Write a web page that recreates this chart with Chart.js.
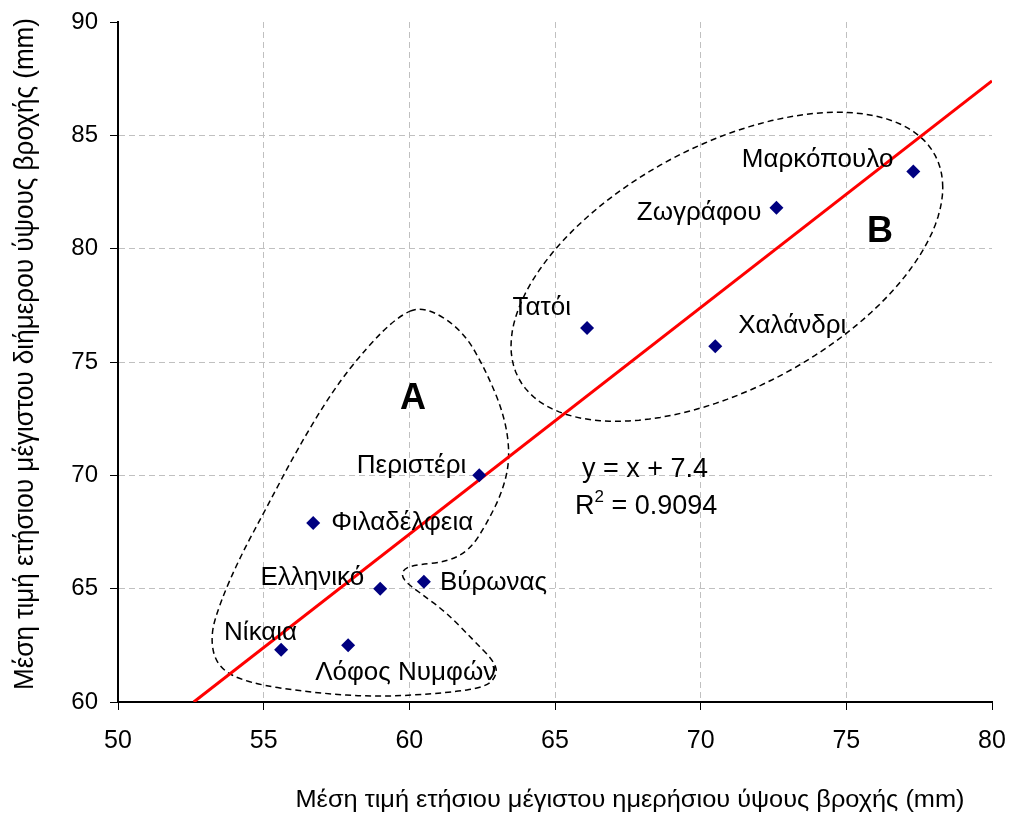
<!DOCTYPE html>
<html lang="el">
<head>
    <meta charset="UTF-8">
    <title>Μέγιστο ύψος βροχής</title>
    <script src="https://cdn.jsdelivr.net/npm/chart.js"></script>
    <style>
        body {
            margin: 0;
            padding: 0;
            background: #fff;
        }
        #chart {
            display: block;
        }
    </style>
</head>
<body>
    <canvas id="chart" width="1009" height="818"></canvas>

    <script>
        // Stations and values
        const stations = ["Νίκαια", "Λόφος Νυμφών", "Ελληνικό", "Φιλαδέλφεια", "Περιστέρι",
                          "Βύρωνας", "Τατόι", "Χαλάνδρι", "Ζωγράφου", "Μαρκόπουλο"];
        const dailyMax  = [55.6, 57.9, 59.0, 56.7, 62.4, 60.5, 66.1, 70.5, 72.6, 77.3];
        const twoDayMax = [62.3, 62.5, 65.0, 67.9, 70.0, 65.3, 76.5, 75.7, 81.8, 83.4];

        const xTicks = [50, 55, 60, 65, 70, 75, 80];
        const yTicks = [60, 65, 70, 75, 80, 85, 90];

        // regression y = x + 7.4
        const fitSlope = 1;
        const fitIntercept = 7.4;
        const fitR2 = "0.9094";

        // group A outline (data units)
        const groupAx = [60.47, 61.84, 62.67, 63.28, 63.46, 63.22, 62.67, 62.08, 61.29, 60.13, 59.75, 59.78,
                         60.37, 61.29, 62.19, 62.87, 63.04, 62.67, 61.29, 58.99, 56.69, 54.43, 53.40, 53.16,
                         53.50, 54.19, 55.11, 56.14, 57.38, 58.55, 59.58];
        const groupAy = [77.51, 76.41, 74.51, 72.57, 70.81, 69.35, 67.90, 66.71, 66.18, 66.04, 65.82, 65.38,
                         64.81, 63.93, 62.74, 61.85, 61.28, 60.66, 60.40, 60.22, 60.40, 60.84, 61.54, 62.87,
                         64.37, 66.40, 68.60, 71.12, 73.76, 75.66, 76.98];

        // group B ellipse: centre and two conjugate half-diameters (data units)
        const groupBCentre = [70.9, 79.2];
        const groupBAxis1 = [7.41, 3.5];
        const groupBAxis2 = [0, 5.85];

        const xMin = xTicks[0], xMax = xTicks[xTicks.length - 1];
        const yMin = yTicks[0], yMax = yTicks[yTicks.length - 1];

        const points = dailyMax.map((x, i) => ({ x: x, y: twoDayMax[i] }));
        const fitStart = (yMin - fitIntercept) / fitSlope;
        const fitLine = [
            { x: fitStart, y: yMin },
            { x: xMax, y: fitSlope * xMax + fitIntercept }
        ];

        // label placement relative to each marker (pixels)
        const labelPos = [
            { dx: 16, dy: -17, align: 'right' },
            { dx: -33, dy: 27, align: 'left' },
            { dx: -16, dy: -11, align: 'right' },
            { dx: 18, dy: 0, align: 'left' },
            { dx: -13, dy: -10, align: 'right' },
            { dx: 16, dy: 1, align: 'left' },
            { dx: -16, dy: -20, align: 'right' },
            { dx: 23, dy: -20, align: 'left' },
            { dx: -15, dy: 5, align: 'right' },
            { dx: -20, dy: -12, align: 'right' }
        ];

        const FONT = "'Liberation Sans', Arial, sans-serif";

        // dashed group outlines, under the markers
        const groupsPlugin = {
            id: 'groups',
            beforeDatasetsDraw(chart) {
                const { ctx, scales: { x, y } } = chart;
                ctx.save();
                ctx.strokeStyle = '#000';
                ctx.lineWidth = 1.5;
                ctx.setLineDash([6, 4]);

                // A: smooth closed curve through the outline points
                const pts = groupAx.map((v, i) => [x.getPixelForValue(v), y.getPixelForValue(groupAy[i])]);
                const n = pts.length;
                const mid = (a, b) => [(a[0] + b[0]) / 2, (a[1] + b[1]) / 2];
                ctx.beginPath();
                let m = mid(pts[n - 1], pts[0]);
                ctx.moveTo(m[0], m[1]);
                for (let i = 0; i < n; i++) {
                    const nx = mid(pts[i], pts[(i + 1) % n]);
                    ctx.quadraticCurveTo(pts[i][0], pts[i][1], nx[0], nx[1]);
                }
                ctx.closePath();
                ctx.stroke();

                // B: ellipse
                ctx.beginPath();
                for (let k = 0; k <= 120; k++) {
                    const t = k / 120 * Math.PI * 2;
                    const vx = groupBCentre[0] + groupBAxis1[0] * Math.cos(t) + groupBAxis2[0] * Math.sin(t);
                    const vy = groupBCentre[1] + groupBAxis1[1] * Math.cos(t) + groupBAxis2[1] * Math.sin(t);
                    const px = x.getPixelForValue(vx), py = y.getPixelForValue(vy);
                    if (k === 0) ctx.moveTo(px, py); else ctx.lineTo(px, py);
                }
                ctx.closePath();
                ctx.stroke();
                ctx.restore();
            }
        };

        // station names, group letters, equation and axis titles
        const textPlugin = {
            id: 'texts',
            afterDraw(chart) {
                const { ctx, scales: { x, y } } = chart;
                ctx.save();
                ctx.fillStyle = '#000';
                ctx.textBaseline = 'middle';
                ctx.font = '26px ' + FONT;
                points.forEach((p, i) => {
                    const lp = labelPos[i];
                    ctx.textAlign = lp.align;
                    ctx.fillText(stations[i], x.getPixelForValue(p.x) + lp.dx, y.getPixelForValue(p.y) + lp.dy);
                });

                ctx.font = 'bold 36px ' + FONT;
                ctx.textAlign = 'center';
                ctx.fillText('A', 413, 399);
                ctx.fillText('B', 880, 232);

                ctx.font = '27px ' + FONT;
                ctx.textAlign = 'left';
                ctx.fillText('y = x + 7.4', 582, 470);
                ctx.fillText('R', 575, 507);
                const rw = ctx.measureText('R').width;
                ctx.font = '17px ' + FONT;
                ctx.fillText('2', 575 + rw, 497);
                const sw = ctx.measureText('2').width;
                ctx.font = '27px ' + FONT;
                ctx.fillText(' = ' + fitR2, 575 + rw + sw, 507);

                // axis titles, slightly narrowed like the original
                ctx.font = '23px ' + FONT;
                ctx.textAlign = 'center';
                const xt = 'Μέση τιμή ετήσιου μέγιστου ημερήσιου ύψους βροχής (mm)';
                const xw = ctx.measureText(xt).width;
                ctx.save();
                ctx.translate(630, 801);
                ctx.scale(669 / xw, 1);
                ctx.fillText(xt, 0, 0);
                ctx.restore();

                ctx.font = '27px ' + FONT;
                const yt = 'Μέση τιμή ετήσιου μέγιστου διήμερου ύψους βροχής (mm)';
                const yw = ctx.measureText(yt).width;
                ctx.save();
                ctx.translate(26, 354);
                ctx.rotate(-Math.PI / 2);
                ctx.scale(672 / yw, 1);
                ctx.fillText(yt, 0, 0);
                ctx.restore();
                ctx.restore();
            }
        };

        const gridColor = (last) => (c) => (c.tick && c.tick.value === last) ? 'rgba(0,0,0,0)' : '#c0c0c0';

        new Chart(document.getElementById('chart'), {
            type: 'scatter',
            data: {
                datasets: [
                    {
                        label: 'Σταθμοί',
                        data: points,
                        pointStyle: 'rectRot',
                        pointRadius: 7,
                        pointHoverRadius: 7,
                        backgroundColor: '#000080',
                        borderColor: '#000080',
                        borderWidth: 0,
                        order: 1
                    },
                    {
                        type: 'line',
                        label: 'y = x + 7.4',
                        data: fitLine,
                        borderColor: '#ff0000',
                        borderWidth: 3,
                        pointRadius: 0,
                        fill: false,
                        order: 2
                    }
                ]
            },
            options: {
                responsive: false,
                animation: false,
                layout: { padding: { top: 22, right: 17, left: 0, bottom: 0 } },
                plugins: {
                    legend: { display: false },
                    tooltip: { enabled: false }
                },
                scales: {
                    x: {
                        type: 'linear',
                        min: xMin,
                        max: xMax,
                        afterBuildTicks: (s) => { s.ticks = xTicks.map(v => ({ value: v })); },
                        afterFit: (s) => {
                            s.height = 116;
                            s.paddingLeft = 0;
                            s.paddingRight = 0;
                        },
                        border: { color: '#000', width: 2, dash: [6, 4] },
                        grid: {
                            color: gridColor(xMax),
                            tickColor: '#000',
                            tickLength: 8,
                            tickBorderDash: []
                        },
                        ticks: {
                            padding: 16,
                            color: '#000',
                            font: { family: FONT, size: 25 },
                            maxRotation: 0
                        }
                    },
                    y: {
                        type: 'linear',
                        min: yMin,
                        max: yMax,
                        afterBuildTicks: (s) => { s.ticks = yTicks.map(v => ({ value: v })); },
                        afterFit: (s) => {
                            s.width = 118;
                            s.paddingTop = 0;
                            s.paddingBottom = 0;
                        },
                        border: { color: '#000', width: 2, dash: [6, 4] },
                        grid: {
                            color: gridColor(yMax),
                            tickColor: '#000',
                            tickLength: 8,
                            tickBorderDash: []
                        },
                        ticks: {
                            padding: 12,
                            color: '#000',
                            font: { family: FONT, size: 24 }
                        }
                    }
                }
            },
            plugins: [groupsPlugin, textPlugin]
        });
    </script>
</body>
</html>
